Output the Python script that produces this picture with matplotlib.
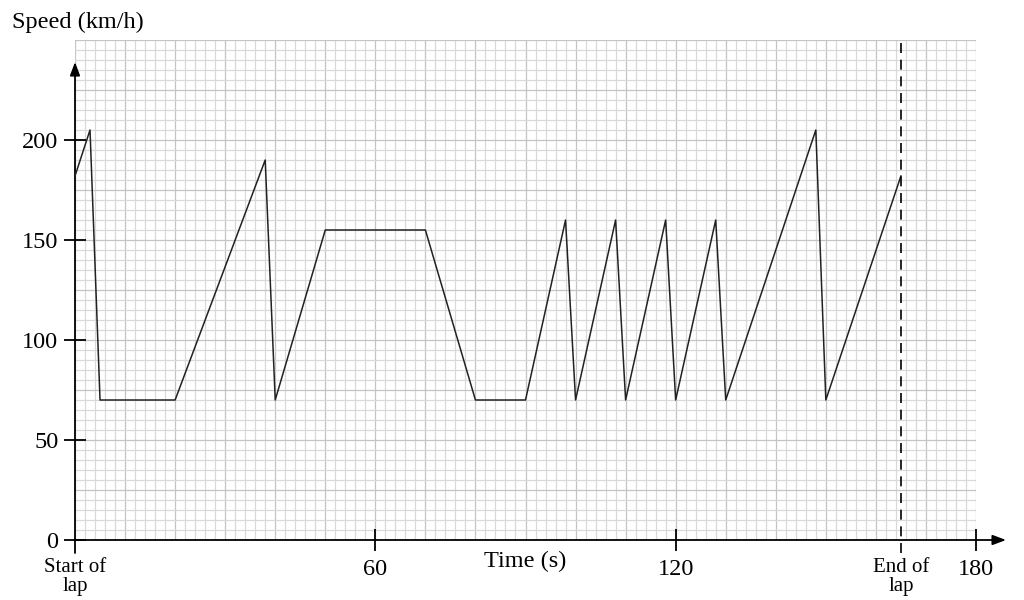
import numpy as np
import matplotlib.pyplot as plt

# lap speed profile
time_s = [0, 3, 5, 20, 38, 40, 50, 70, 80, 90, 98, 100, 108, 110, 118, 120,
          128, 130, 148, 150, 165]
speed_kmh = [182, 205, 70, 70, 190, 70, 155, 155, 70, 70, 160, 70, 160, 70,
             160, 70, 160, 70, 205, 70, 182]
lap_end = 165
x_ticks = [60, 120, 180]
y_ticks = [0, 50, 100, 150, 200]

plt.rcParams['font.family'] = ['Liberation Serif', 'DejaVu Serif']

fig = plt.figure(figsize=(10.24, 6), dpi=100)
ax = fig.add_axes([75 / 1024, 60 / 600, 901 / 1024, 500 / 600])
ax.set_xlim(0, 180)
ax.set_ylim(0, 250)
for s in ax.spines.values():
    s.set_visible(False)

# graph paper
for gx in np.arange(0, 181, 2):
    c = "#c4c4c4" if gx % 10 == 0 else "#d9d9d9"
    ax.axvline(gx, color=c, lw=0.9, zorder=0)
for gy in np.arange(0, 251, 5):
    c = "#c4c4c4" if gy % 25 == 0 else "#d9d9d9"
    ax.axhline(gy, color=c, lw=0.9, zorder=0)

# axes with arrows
ax.annotate("", xy=(186, 0), xytext=(0, 0), annotation_clip=False,
            arrowprops=dict(arrowstyle="-|>,head_length=0.8,head_width=0.3",
                            color="black", lw=1.3, shrinkA=0, shrinkB=0))
ax.annotate("", xy=(0, 239), xytext=(0, -6.5), annotation_clip=False,
            arrowprops=dict(arrowstyle="-|>,head_length=0.8,head_width=0.3",
                            color="black", lw=1.3, shrinkA=0, shrinkB=0))

ax.plot(time_s, speed_kmh, color="#222222", lw=1.1, zorder=3)
ax.plot([lap_end, lap_end], [-6.5, 250], color="black", lw=1.2,
        linestyle=(0, (6, 4)), clip_on=False, zorder=3)

ax.set_yticks(y_ticks)
ax.set_yticklabels([str(v) for v in y_ticks], fontsize=17.5)
ax.tick_params(axis="y", direction="inout", length=16, width=1.3, pad=4)
ax.set_xticks(x_ticks)
ax.set_xticklabels([str(v) for v in x_ticks], fontsize=17.5)
ax.tick_params(axis="x", direction="inout", length=16, width=1.3, pad=6)

ax.text(0, -9, "Start of\nlap", ha="center", va="top", fontsize=15,
        linespacing=1.0)
ax.text(lap_end, -9, "End of\nlap", ha="center", va="top", fontsize=15,
        linespacing=1.0)
ax.text(90, -5.5, "Time (s)", ha="center", va="top", fontsize=17.5)
fig.text(12 / 1024, 1 - 22 / 600, "Speed (km/h)", ha="left", va="center",
         fontsize=17.5)

fig.savefig("out.png", dpi=100)
